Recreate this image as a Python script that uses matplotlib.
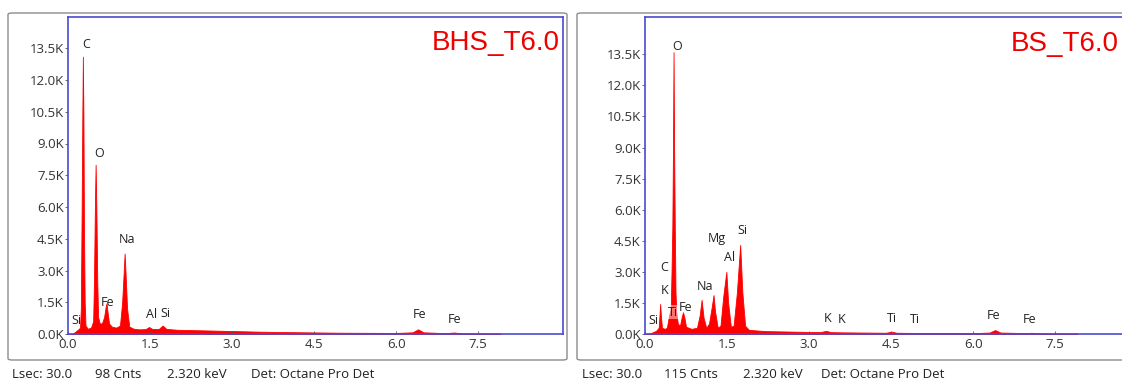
import matplotlib
matplotlib.use("Agg")
import matplotlib.pyplot as plt
from matplotlib.patches import FancyBboxPatch
from matplotlib.ticker import FixedLocator, FuncFormatter

# ---------------- data ----------------
bhs_energy = [0.00, 0.08, 0.12, 0.18, 0.22, 0.235, 0.25, 0.262, 0.272, 0.282, 0.292, 0.305, 0.32,
              0.36, 0.42, 0.46, 0.475, 0.492, 0.505, 0.518, 0.535, 0.55, 0.58, 0.62, 0.66,
              0.69, 0.705, 0.72, 0.75, 0.80, 0.88, 0.95, 0.99, 1.02, 1.035, 1.05, 1.08,
              1.12, 1.20, 1.30, 1.42, 1.48, 1.54, 1.66, 1.73, 1.80, 2.0, 2.5, 3.0, 3.5,
              4.0, 5.0, 6.0, 6.3, 6.40, 6.5, 6.9, 7.06, 7.2, 7.9]
bhs_counts = [0, 0, 80, 200, 300, 1200, 6000, 10300, 13100, 10200, 5000, 1500, 400,
              250, 300, 600, 2500, 6000, 8000, 6000, 2500, 800, 500, 500, 800,
              1300, 1450, 1100, 500, 350, 300, 400, 1500, 3000, 3800, 3000, 1200,
              350, 250, 220, 230, 330, 240, 240, 400, 240, 200, 170, 140, 110,
              90, 60, 50, 80, 220, 80, 40, 70, 30, 20]

bs_energy = [0.00, 0.08, 0.12, 0.20, 0.25, 0.265, 0.277, 0.29, 0.31, 0.36, 0.40, 0.44, 0.47,
             0.485, 0.50, 0.512, 0.522, 0.532, 0.545, 0.558, 0.57, 0.60, 0.64, 0.67, 0.695,
             0.72, 0.75, 0.85, 0.95, 1.00, 1.035, 1.07, 1.12, 1.17, 1.22, 1.253, 1.28,
             1.33, 1.38, 1.43, 1.487, 1.52, 1.57, 1.62, 1.68, 1.74, 1.78, 1.83, 1.9,
             2.2, 2.8, 3.2, 3.31, 3.4, 3.6, 4.0, 4.4, 4.51, 4.6, 5.0, 6.0, 6.3, 6.40,
             6.5, 7.0, 7.06, 7.2, 7.9]
bs_counts = [0, 0, 60, 150, 300, 900, 1450, 900, 300, 250, 300, 900, 1200,
             3000, 5200, 9000, 13600, 9000, 5000, 2000, 1100, 500, 400, 800, 1050,
             800, 350, 250, 300, 900, 1650, 800, 300, 500, 1300, 1880, 1100,
             300, 400, 1800, 3000, 1500, 350, 400, 2000, 4300, 2000, 400, 200,
             140, 110, 90, 150, 90, 80, 70, 60, 110, 60, 50, 40, 70, 190,
             70, 40, 60, 30, 20]

bhs_labels = ["Si", "C", "O", "Fe", "Na", "Al", "Si", "Fe", "Fe"]
bhs_label_x = [0.15, 0.33, 0.57, 0.72, 1.08, 1.53, 1.79, 6.42, 7.07]
bhs_label_y = [660, 13700, 8550, 1500, 4480, 900, 990, 900, 700]

bs_labels = ["Si", "C", "K", "O", "Ti", "Fe", "Na", "Mg", "Al", "Si", "K", "K", "Ti", "Ti", "Fe", "Fe"]
bs_label_x = [0.16, 0.35, 0.35, 0.58, 0.51, 0.75, 1.10, 1.32, 1.54, 1.79, 3.33, 3.60, 4.52, 4.94, 6.38, 7.04]
bs_label_y = [630, 3200, 2100, 13900, 1060, 1300, 2300, 4600, 3700, 5000, 770, 720, 770, 680, 870, 680]

x_ticks = [0.0, 1.5, 3.0, 4.5, 6.0, 7.5]
y_ticks = [0, 1500, 3000, 4500, 6000, 7500, 9000, 10500, 12000, 13500]

panel_titles = ["BHS_T6.0", "BS_T6.0"]
footer_texts = [["Lsec: 30.0", "98 Cnts", "2.320 keV", "Det: Octane Pro Det"],
                ["Lsec: 30.0", "115 Cnts", "2.320 keV", "Det: Octane Pro Det"]]

# ---------------- figure ----------------
W, H = 1122, 382
fig = plt.figure(figsize=(W / 100, H / 100), dpi=100)
fig.patch.set_facecolor("white")

FONT = ["Open Sans", "DejaVu Sans"]
RED = "#ff0000"
BLUE = "#4a4ad0"


def px_rect(x0, y0, x1, y1):
    return [x0 / W, 1 - y1 / H, (x1 - x0) / W, (y1 - y0) / H]


# outer grey frames
for (x0, x1) in [(8, 567), (577, 1135)]:
    fb = FancyBboxPatch((x0 / W, 1 - 360 / H), (x1 - x0) / W, (360 - 13) / H,
                        boxstyle="round,pad=0,rounding_size=0.004",
                        transform=fig.transFigure, facecolor="white",
                        edgecolor="#8c8c8c", linewidth=1.0, zorder=0)
    fig.patches.append(fb)

axes_specs = [
    dict(rect=px_rect(68, 16.5, 563, 334), ylim=15000, e=bhs_energy, c=bhs_counts,
         labels=bhs_labels, lx=bhs_label_x, ly=bhs_label_y, title_x=0.994),
    dict(rect=px_rect(645, 17, 1140, 334), ylim=15300, e=bs_energy, c=bs_counts,
         labels=bs_labels, lx=bs_label_x, ly=bs_label_y, title_x=0.958),
]

for i, spec in enumerate(axes_specs):
    ax = fig.add_axes(spec["rect"])
    ax.set_zorder(2)
    ax.set_xlim(0, 9.05)
    ax.set_ylim(0, spec["ylim"])
    ax.fill_between(spec["e"], spec["c"], 0, color=RED, linewidth=0.6, edgecolor=RED)
    for s in ax.spines.values():
        s.set_color(BLUE)
        s.set_linewidth(1.2)
    ax.xaxis.set_major_locator(FixedLocator(x_ticks))
    ax.yaxis.set_major_locator(FixedLocator(y_ticks))
    ax.xaxis.set_major_formatter(FuncFormatter(lambda v, p: f"{v:.1f}"))
    ax.yaxis.set_major_formatter(FuncFormatter(lambda v, p: f"{v/1000:.1f}K"))
    ax.tick_params(axis="both", length=2, width=0.6, color="#555555",
                   labelsize=9.5, labelcolor="#333333", pad=1)
    ax.tick_params(axis="x", direction="in", pad=3)
    ax.tick_params(axis="y", direction="out")
    for lab in ax.get_xticklabels() + ax.get_yticklabels():
        lab.set_fontfamily(FONT)
    for name, x, y in zip(spec["labels"], spec["lx"], spec["ly"]):
        kw = {}
        if name == "Ti" and x < 1:
            kw["bbox"] = dict(facecolor="white", alpha=0.45, edgecolor="none", pad=0.5)
        ax.text(x, y, name, ha="center", va="center", fontsize=9, color="#222222",
                family=FONT, **kw)
    ax.text(spec["title_x"], 0.915, panel_titles[i], transform=ax.transAxes,
            ha="right", va="center", fontsize=20, color="#ee0000",
            family=["Liberation Sans", "DejaVu Sans"])

# footers
footer_x = [[12, 95, 167, 251], [582, 664, 743, 821]]
for texts, xs in zip(footer_texts, footer_x):
    for t, x in zip(texts, xs):
        fig.text(x / W, 1 - 375 / H, t, ha="left", va="center", fontsize=9.5,
                 color="#222222", family=FONT)

fig.savefig("out.png", dpi=100, facecolor="white")
